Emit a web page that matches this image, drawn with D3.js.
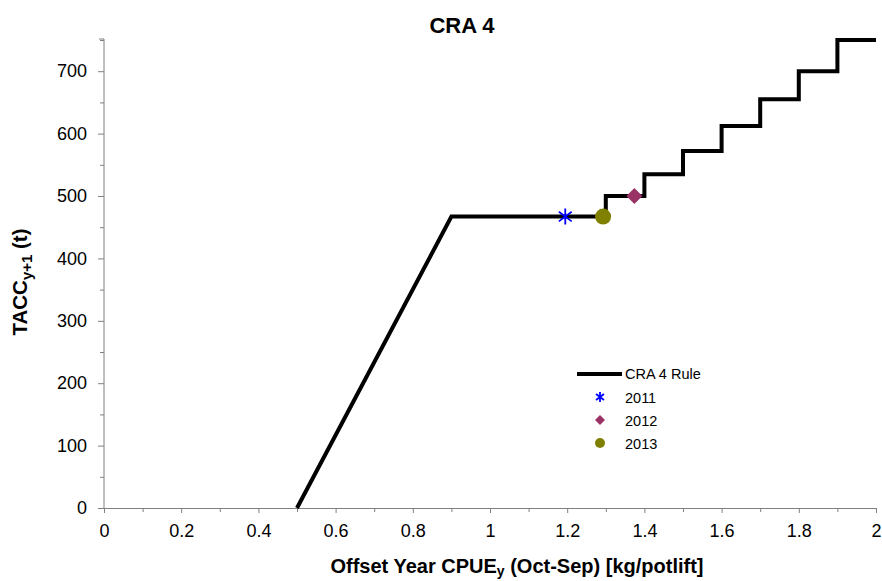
<!DOCTYPE html>
<html>
<head>
<meta charset="utf-8">
<style>
  body { margin: 0; background: #fff; }
  text { font-family: "Liberation Sans", Arial, sans-serif; fill: #000; }
</style>
<script src="https://d3js.org/d3.v7.min.js"></script>
</head>
<body>
<div id="chart"></div>
<script>
// harvest control rule: CPUE breakpoints and TACC
const ruleCpue = [0.5, 0.9, 1.3, 1.3, 1.4, 1.4, 1.5, 1.5, 1.6, 1.6, 1.7, 1.7, 1.8, 1.8, 1.9, 1.9, 2.0];
const ruleTacc = [0, 467, 467, 500, 500, 535, 535, 572, 572, 612, 612, 655, 655, 700, 700, 750, 750];

const years = ["2011", "2012", "2013"];
const yearCpue = [1.195, 1.374, 1.293];
const yearTacc = [467, 500, 467];
const yearColors = ["#0000ff", "#993366", "#808000"];
const yearShapes = ["asterisk", "diamond", "circle"];

const xTicks = [0, 0.2, 0.4, 0.6, 0.8, 1, 1.2, 1.4, 1.6, 1.8, 2];
const yTicks = [0, 100, 200, 300, 400, 500, 600, 700];

const W = 882, H = 581;
const m = { left: 104, right: 6, top: 40, bottom: 73 };

const svg = d3.select("#chart").append("svg")
    .attr("width", W).attr("height", H);

const x = d3.scaleLinear().domain([0, 2]).range([m.left, W - m.right]);
const y = d3.scaleLinear().domain([0, 750]).range([H - m.bottom, m.top]);

const axisColor = "#808080";
const tickFont = "18px";

// y axis: major + minor ticks
const yMinor = d3.range(0, 751, 50).filter(v => v % 100 !== 0);
svg.append("g").attr("transform", `translate(${m.left},0)`)
    .call(d3.axisLeft(y).tickValues(yMinor).tickSize(4).tickFormat(""))
    .call(g => g.select(".domain").remove())
    .call(g => g.selectAll("line").attr("stroke", axisColor));
const yAxis = svg.append("g").attr("transform", `translate(${m.left},0)`)
    .call(d3.axisLeft(y).tickValues(yTicks).tickSize(6).tickSizeOuter(0).tickPadding(11).tickFormat(d3.format("d")));
yAxis.select(".domain").attr("stroke", axisColor).attr("d", `M0,${y(0)}V${m.top - 1}`);
yAxis.selectAll("line").attr("stroke", axisColor);
yAxis.selectAll("text").style("font-size", tickFont).style("font-family", "Liberation Sans, Arial, sans-serif");
svg.append("line").attr("x1", m.left - 5).attr("x2", m.left)
    .attr("y1", m.top - 1).attr("y2", m.top - 1).attr("stroke", axisColor);

// x axis
const xMinor = d3.range(1, 20, 2).map(v => v / 10);
svg.append("g").attr("transform", `translate(0,${y(0)})`)
    .call(d3.axisBottom(x).tickValues(xMinor).tickSize(4).tickFormat(""))
    .call(g => g.select(".domain").remove())
    .call(g => g.selectAll("line").attr("stroke", axisColor));
const xAxis = svg.append("g").attr("transform", `translate(0,${y(0)})`)
    .call(d3.axisBottom(x).tickValues(xTicks).tickSize(5).tickSizeOuter(0).tickPadding(11).tickFormat(d => String(d)));
xAxis.select(".domain").attr("stroke", axisColor);
xAxis.selectAll("line").attr("stroke", axisColor);
xAxis.selectAll("text").style("font-size", tickFont).style("font-family", "Liberation Sans, Arial, sans-serif");

// rule line
const rule = ruleCpue.map((c, i) => [c, ruleTacc[i]]);
svg.append("path")
    .datum(rule)
    .attr("fill", "none").attr("stroke", "#000").attr("stroke-width", 4)
    .attr("stroke-linejoin", "miter")
    .attr("d", d3.line().x(d => x(d[0])).y(d => y(d[1])));

// markers
function drawMarker(g, shape, cx, cy, color, s) {
  if (shape === "asterisk") {
    const r = s;
    g.append("path")
      .attr("d", `M${cx},${cy - r}V${cy + r}M${cx - r * 0.8},${cy - r * 0.6}L${cx + r * 0.8},${cy + r * 0.6}M${cx - r * 0.8},${cy + r * 0.6}L${cx + r * 0.8},${cy - r * 0.6}`)
      .attr("stroke", color).attr("stroke-width", 1.8).attr("fill", "none");
  } else if (shape === "diamond") {
    g.append("path")
      .attr("d", `M${cx},${cy - s}L${cx + s},${cy}L${cx},${cy + s}L${cx - s},${cy}Z`)
      .attr("fill", color);
  } else {
    g.append("circle").attr("cx", cx).attr("cy", cy).attr("r", s).attr("fill", color);
  }
}

const pts = svg.append("g");
years.forEach((yr, i) => {
  drawMarker(pts, yearShapes[i], x(yearCpue[i]), y(yearTacc[i]), yearColors[i], 8);
});

// legend
const lg = svg.append("g");
lg.append("line").attr("x1", 577).attr("x2", 622).attr("y1", 374).attr("y2", 374)
    .attr("stroke", "#000").attr("stroke-width", 4);
lg.append("text").attr("x", 625).attr("y", 379).style("font-size", "14.5px").text("CRA 4 Rule");
const legendY = [397, 420, 443];
years.forEach((yr, i) => {
  const cy = legendY[i];
  drawMarker(lg, yearShapes[i], 600, cy, yearColors[i], 5);
  lg.append("text").attr("x", 625).attr("y", cy + 5.5).style("font-size", "14.5px").text(yr);
});

// title
svg.append("text").attr("x", 462).attr("y", 33).attr("text-anchor", "middle")
    .style("font-size", "22px").style("font-weight", "bold").text("CRA 4");

// y label
const yl = svg.append("text")
    .attr("transform", "translate(27,282) rotate(-90)")
    .attr("text-anchor", "middle")
    .style("font-size", "20.5px").style("font-weight", "bold");
yl.append("tspan").text("TACC");
yl.append("tspan").attr("dy", 5).style("font-size", "15px").text("y+1");
yl.append("tspan").attr("dy", -5).text(" (t)");

// x label
const xl = svg.append("text").attr("x", 517).attr("y", 573).attr("text-anchor", "middle")
    .style("font-size", "20px").style("font-weight", "bold");
xl.append("tspan").text("Offset Year CPUE");
xl.append("tspan").attr("dy", 3).style("font-size", "14px").text("y");
xl.append("tspan").attr("dy", -3).text(" (Oct-Sep) [kg/potlift]");
</script>
</body>
</html>
